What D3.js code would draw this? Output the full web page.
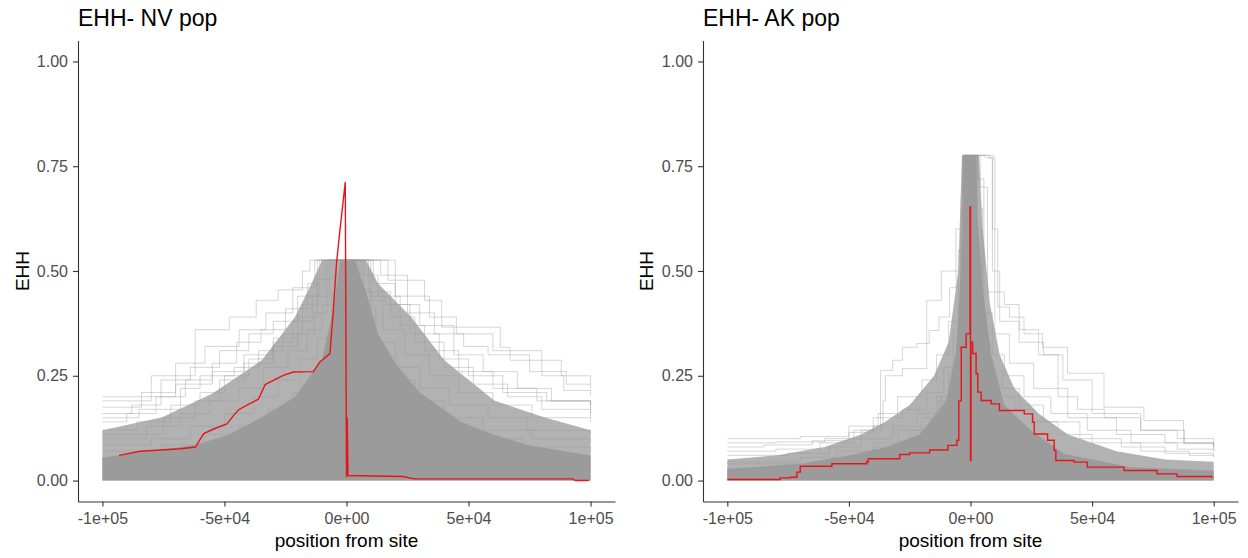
<!DOCTYPE html>
<html>
<head>
<meta charset="utf-8">
<script src="https://cdn.jsdelivr.net/npm/d3@7"></script>
<style>
	body { margin: 0; background: #ffffff; }
	text { font-family: "Liberation Sans", Arial, sans-serif; }
</style>
</head>
<body>
<div id="chart"></div>
<script>
// EHH decay around the focal site, two populations side by side.
// Positions are kept in kb, the axis labels are written the way R prints them.

let panelTitles 	= [ "EHH- NV pop", "EHH- AK pop" ] ;

let xTicks 			= [ -100, -50, 0, 50, 100 ] ;
let xTickLabels 	= [ "-1e+05", "-5e+04", "0e+00", "5e+04", "1e+05" ] ;
let yTicks 			= [ 0, 0.25, 0.5, 0.75, 1 ] ;
let yTickLabels 	= [ "0.00", "0.25", "0.50", "0.75", "1.00" ] ;

// NV pop : top of the solid grey mass, and of the looser band of lines above it
let nvCore 	= [ [-100,.055],[-62,.085],[-48,.11],[-35,.15],[-21,.2],[-10,.29],[-5,.42],[-2.5,.526],
				[3.4,.526],[8,.45],[12.9,.35],[20,.28],[30,.21],[46.9,.14],[60,.11],[74.1,.085],[100,.06] ] ;
let nvBand 	= [ [-100,.12],[-75.5,.151],[-55.1,.207],[-34.7,.287],[-21.1,.39],[-14.3,.47],[-10,.526],
				[8,.526],[12.9,.47],[26.5,.39],[40.1,.287],[60.5,.191],[80.9,.151],[100,.12] ] ;

// NV pop : single lines that stand out of the mass
let nvLines = [
	[[-100,.19],[-80,.25],[-62,.36],[-48,.39],[-37,.43],[-28,.455],[-18,.50],[-15,.526],[17,.478],[32,.43],[39,.366],[63,.318],[67,.287],[88,.251],[89,.215],[100,.203]],
	[[-100,.175],[-84,.21],[-70,.28],[-58,.32],[-44,.36],[-33,.40],[-22,.46],[-13,.526],[14,.49],[25,.40],[36,.35],[48,.32],[58,.30],[75,.26],[90,.23],[100,.22]],
	[[-100,.16],[-88,.18],[-76,.24],[-64,.27],[-52,.31],[-40,.35],[-30,.38],[-20,.44],[-11,.526],[11,.47],[20,.42],[30,.37],[44,.30],[56,.26],[70,.22],[84,.19],[100,.18]],
	[[-100,.14],[-90,.16],[-78,.20],[-66,.24],[-55,.28],[-45,.33],[-35,.36],[-25,.41],[-16,.47],[-9,.526],[9,.45],[18,.39],[28,.33],[40,.27],[52,.23],[66,.20],[80,.17],[100,.16]],
	[[-100,.12],[-86,.14],[-72,.18],[-60,.21],[-50,.25],[-40,.29],[-30,.33],[-22,.38],[-14,.44],[-7,.526],[7,.43],[15,.36],[24,.30],[34,.25],[46,.21],[60,.18],[76,.15],[100,.14]],
	[[-100,.10],[-82,.13],[-68,.16],[-56,.19],[-44,.22],[-34,.27],[-24,.31],[-16,.36],[-10,.42],[-5,.526],[5,.41],[12,.33],[20,.27],[30,.22],[42,.18],[58,.15],[74,.12],[100,.11]],
	[[-100,.085],[-80,.10],[-64,.13],[-50,.16],[-38,.20],[-28,.24],[-19,.29],[-12,.34],[-6,.45],[-3,.526],[4,.45],[10,.30],[18,.24],[28,.19],[40,.15],[56,.12],[76,.10],[100,.09]],
	[[-100,.07],[-76,.085],[-58,.11],[-44,.13],[-32,.17],[-22,.21],[-14,.26],[-8,.33],[-4,.526],[3,.40],[8,.27],[15,.21],[24,.16],[36,.13],[52,.10],[72,.08],[100,.07]],
	[[-100,.20],[-70,.23],[-55,.26],[-42,.30],[-30,.34],[-20,.39],[-12,.526],[20,.44],[34,.39],[45,.35],[60,.31],[80,.25],[100,.23]],
	[[-100,.11],[-75,.15],[-62,.19],[-52,.24],[-42,.28],[-30,.32],[-20,.35],[-13,.40],[-8,.526],[10,.44],[16,.42],[26,.35],[38,.29],[50,.25],[64,.21],[82,.19],[100,.17]],
	[[-100,.15],[-85,.17],[-68,.22],[-60,.25],[-46,.27],[-36,.31],[-26,.35],[-18,.42],[-12,.48],[-6,.526],[6,.49],[13,.44],[22,.37],[32,.31],[46,.26],[60,.22],[78,.19],[100,.15]]
] ;

// NV pop : focal site (red)
let nvRed 	= [ [-93.2,.060],[-84.4,.070],[-68,.076],[-61.9,.080],[-58.5,.112],[-54.4,.123],[-49,.135],[-46.3,.155],
				[-44.2,.169],[-40.2,.182],[-36.1,.194],[-33.3,.229],[-30,.239],[-25.9,.251],[-21.8,.259],[-13.6,.260],
				[-10.9,.283],[-6.8,.303],[-5.5,.398],[-4.1,.518],[-2.7,.597],[-0.5,.712],[0,.008],[0.3,.15],[0.6,.012],
				[23.1,.0096],[27.9,.004],[92.5,.004],[93.9,0],[99.3,0] ] ;

// AK pop
let akCore 	= [ [-100,.028],[-70,.04],[-50,.06],[-34.5,.08],[-21,.11],[-10,.19],[-5.9,.31],[-4.5,.44],[-3.2,.60],[-2.5,.776],
				[2.3,.776],[3,.62],[5,.46],[8.5,.30],[13.9,.18],[24.8,.12],[38.5,.064],[65.8,.032],[99,.024],[100,.024] ] ;
let akBand 	= [ [-100,.05],[-80,.06],[-60,.08],[-45,.11],[-35,.14],[-25,.18],[-15,.25],[-9,.33],[-5,.5],[-3.5,.776],
				[3.5,.776],[5,.6],[8,.42],[12,.30],[18,.22],[28,.16],[40,.11],[60,.07],[80,.05],[100,.045] ] ;

let akLines = [
	[[-100,.10],[-77,.10],[-70,.105],[-50,.115],[-40,.13],[-36,.19],[-35,.25],[-28,.267],[-18,.43],[-12,.5],[-6,.6],[-3.2,.776],[7.8,.77],[9,.6],[11.2,.414],[16,.39],[22,.35],[29.6,.318],[39.9,.256],[54.9,.175],[71.3,.143],[87.6,.088],[100,.072]],
	[[-100,.09],[-80,.092],[-60,.10],[-45,.12],[-37,.263],[-32,.287],[-28,.318],[-22,.327],[-17,.358],[-13,.39],[-8.6,.46],[-5.9,.50],[-3.8,.677],[-3.2,.776],[6,.77],[9,.50],[12,.38],[20,.33],[30,.30],[38,.24],[50,.16],[70,.12],[85,.10],[100,.09]],
	[[-100,.08],[-85,.085],[-65,.095],[-50,.13],[-38,.16],[-30,.20],[-20,.24],[-14,.30],[-9,.38],[-5,.55],[-3,.776],[4,.70],[7,.45],[10,.35],[16,.28],[26,.22],[40,.15],[60,.11],[80,.09],[100,.08]],
	[[-100,.07],[-80,.075],[-62,.09],[-48,.12],[-40,.15],[-28,.17],[-18,.21],[-11,.27],[-7,.36],[-4,.6],[-2.8,.776],[3,.72],[5.5,.40],[9,.30],[14,.25],[22,.20],[33,.16],[48,.12],[66,.09],[85,.075],[100,.07]],
	[[-100,.06],[-75,.065],[-58,.08],[-45,.10],[-32,.13],[-22,.16],[-14,.20],[-9,.26],[-5.5,.35],[-3.5,.65],[-2.6,.776],[2.8,.65],[5,.33],[8,.26],[13,.22],[20,.18],[30,.14],[45,.10],[62,.08],[80,.065],[100,.06]],
	[[-100,.045],[-70,.055],[-55,.07],[-40,.09],[-30,.12],[-20,.15],[-13,.19],[-8,.24],[-5,.32],[-3.5,.55],[-2.5,.776],[2.5,.6],[4.5,.28],[7,.22],[11,.20],[18,.17],[26,.14],[36,.11],[50,.09],[70,.07],[90,.06],[100,.055]],
	[[-100,.04],[-60,.05],[-40,.08],[-25,.12],[-12,.2],[-6,.3],[-3.5,.5],[-2.5,.776],[9.5,.77],[10,.45],[13.9,.42],[20,.36],[28,.30],[36,.20],[44,.17],[55,.15],[70,.12],[88,.09],[100,.08]]
] ;

let akRed 	= [ [-100,.0024],[-78.2,.0064],[-74.1,.008],[-71.4,.020],[-70,.034],[-57,.040],[-42.7,.045],[-42,.052],
				[-29.1,.062],[-25,.066],[-16.8,.073],[-9.3,.084],[-5.6,.096],[-4.8,.19],[-3.8,.318],[-1.8,.35],[-0.2,.653],
				[0,.048],[0.2,.33],[0.9,.303],[2.3,.255],[3,.211],[4.4,.191],[8.5,.183],[11.9,.167],[22.1,.159],[25.5,.139],
				[26.2,.111],[31.7,.096],[34.4,.072],[35.1,.048],[42.6,.044],[48,.032],[63.1,.024],[76.7,.016],[84.9,.0096],[99.2,.0064] ] ;


let svgwidth 	= 1248 ;
let svgheight 	= 558 ;

let panelTop 	= 40.5 ;
let panelBottom = 501.5 ;

let panels 	= [
				{ 'left': 78,  'right': 615,  'ylab': 29,  'core': nvCore, 'band': nvBand, 'lines': nvLines, 'red': nvRed, 'redCurve': d3.curveLinear },
				{ 'left': 703, 'right': 1238, 'ylab': 653, 'core': akCore, 'band': akBand, 'lines': akLines, 'red': akRed, 'redCurve': d3.curveStepAfter }
			] ;

let svg 	= d3.select("#chart").append("svg")
				.attr("width", svgwidth )
				.attr("height", svgheight )
			;

let y 	= 	d3.scaleLinear()
				.domain( [ -0.05, 1.05 ] )
				.range([ panelBottom, panelTop ])
			;

drawPanel = ( p, i )=>{

	let x 	= 	d3.scaleLinear()
					.domain( [ -110, 110 ] )
					.range([ p.left, p.right ])
				;

	let g 	= svg.append("g") ;

	let area 	= d3.area()
					.x( d => x(d[0]) )
					.y0( y(0) )
					.y1( d => y(d[1]) )
				;

	// looser band of lines
	g.append("path")
		.datum( p.band )
		.attr("fill", "#9c9c9c")
		.attr("fill-opacity", 0.78)
		.attr("d", area )
	;

	// single grey lines
	g.selectAll(".grey")
		.data( p.lines )
		.join("path")
		.attr("class", "grey")
		.attr("fill", "none")
		.attr("stroke", "#999999")
		.attr("stroke-opacity", 0.45)
		.attr("stroke-width", 0.9)
		.attr("d", d3.line()
			.x( d => x(d[0]) )
			.y( d => y(d[1]) )
			.curve( d3.curveStepAfter )
		)
	;

	// solid grey mass
	g.append("path")
		.datum( p.core )
		.attr("fill", "#9b9b9b")
		.attr("d", area )
	;

	// focal site
	g.append("path")
		.datum( p.red )
		.attr("fill", "none")
		.attr("stroke", "#e8141b")
		.attr("stroke-width", 1.4)
		.attr("d", d3.line()
			.x( d => x(d[0]) )
			.y( d => y(d[1]) )
			.curve( p.redCurve )
		)
	;

	// axes
	let xAxis 	= g.append("g")
					.attr("transform", "translate(0," + panelBottom + ")")
					.call( d3.axisBottom(x).tickValues( xTicks ).tickFormat( (d, k) => xTickLabels[k] ).tickSize(5).tickPadding(6).tickSizeOuter(0) )
				;

	let yAxis 	= g.append("g")
					.attr("transform", "translate(" + p.left + ",0)")
					.call( d3.axisLeft(y).tickValues( yTicks ).tickFormat( (d, k) => yTickLabels[k] ).tickSize(5).tickPadding(5).tickSizeOuter(0) )
				;

	[ xAxis, yAxis ].forEach( a => {
		a.select(".domain").attr("stroke", "#333333").attr("stroke-width", 1.1) ;
		a.selectAll(".tick line").attr("stroke", "#333333").attr("stroke-width", 1.1) ;
		a.selectAll(".tick text")
			.attr("fill", "#4d4d4d")
			.style("font-size", "16px")
			.style("font-family", "'Liberation Sans', Arial, sans-serif")
		;
	}) ;

	// titles
	g.append("text")
		.attr("x", p.left )
		.attr("y", 26 )
		.style("font-size", "23px")
		.attr("fill", "#000000")
		.text( panelTitles[i] )
	;

	g.append("text")
		.attr("x", ( p.left + p.right ) / 2 )
		.attr("y", 547 )
		.attr("text-anchor", "middle")
		.style("font-size", "19px")
		.attr("fill", "#000000")
		.text("position from site")
	;

	g.append("text")
		.attr("transform", "translate(" + p.ylab + "," + ( ( panelTop + panelBottom ) / 2 ) + ") rotate(-90)")
		.attr("text-anchor", "middle")
		.style("font-size", "19px")
		.attr("fill", "#000000")
		.text("EHH")
	;
}

panels.forEach( drawPanel ) ;

</script>
</body>
</html>
